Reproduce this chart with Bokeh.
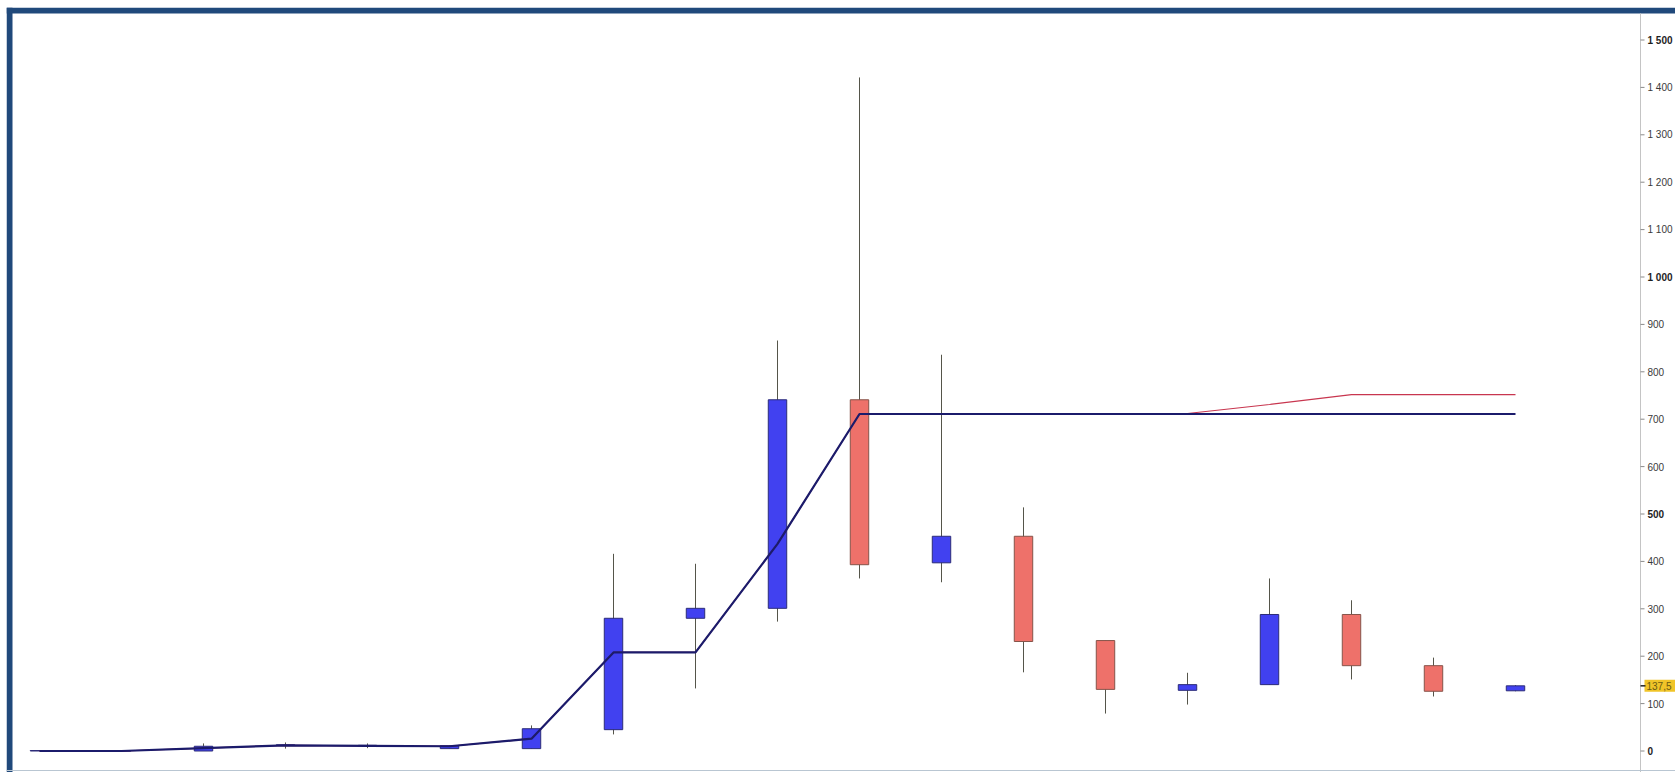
from bokeh.plotting import figure
from bokeh.models import Range1d, Span, ColumnDataSource
from bokeh.core.properties import value, field
from bokeh.embed import file_html
from bokeh.resources import INLINE

# ---- data ----
idx = list(range(19))
opens  = [0, 0, 0, 12, 11, 5, 5, 45, 280, 301, 741, 397, 453, 233, 128, 140, 288, 180, 127]
highs  = [1, 0, 16, 18, 16, 12, 54, 416, 395, 866, 1421, 836, 514, 233, 165, 364, 318, 197, 139]
lows   = [0, 0, 0, 5, 6, 5, 5, 35, 132, 273, 364, 356, 166, 79, 98, 140, 151, 115, 126]
closes = [1, 0, 10, 13, 12, 11, 47, 280, 301, 741, 393, 453, 231, 130, 140, 288, 180, 126, 137.5]
line_navy = [0, 0, 6, 12, 11, 10, 26, 208, 208, 437, 711, 711, 711, 711, 711, 711, 711, 711, 711]
line_red  = [0, 0, 6, 12, 11, 10, 26, 208, 208, 437, 711, 711, 711, 711, 712, 731, 752, 752, 752]
y_ticks = [0, 100, 200, 300, 400, 500, 600, 700, 800, 900, 1000, 1100, 1200, 1300, 1400, 1500]
tick_labels = ["0", "100", "200", "300", "400", "500", "600", "700", "800", "900",
               "1 000", "1 100", "1 200", "1 300", "1 400", "1 500"]
bold_ticks = [0, 500, 1000, 1500]
last_value = 137.5
last_text = "137,5"

# ---- geometry (canvas pixels) ----
W, H = 1675, 772
MARGIN_L, MARGIN_T = 6, 7        # white margin around the framed chart
BORDER = 6                       # dark blue frame border (top and left)
BAR0_PX, BAR_STEP = 39.0, 82.0   # first candle centre and candle spacing
ZERO_PX, Y_SCALE = 750.5, 0.474  # pixel row of value 0, pixels per unit
AXIS_PX = 1640                   # price axis line


def xd(px_):
    return (px_ - BAR0_PX) / BAR_STEP


def yd(py_):
    return (ZERO_PX - py_) / Y_SCALE


X_START, X_END = xd(MARGIN_L), xd(W)
Y_START, Y_END = yd(H), yd(MARGIN_T)
AXIS_X = xd(AXIS_PX)

up = [c >= o for o, c in zip(opens, closes)]
src = ColumnDataSource(dict(
    x=idx, open=opens, high=highs, low=lows, close=closes,
    top=[max(o, c) for o, c in zip(opens, closes)],
    bottom=[min(o, c) for o, c in zip(opens, closes)],
    fill=["#4141f0" if u else "#ee716a" for u in up],
    edge=["#2c2c78" if u else "#86544a" for u in up],
))

p = figure(width=W, height=H, output_backend="svg", toolbar_location=None,
           x_range=Range1d(X_START, X_END), y_range=Range1d(Y_START, Y_END),
           x_axis_location=None, y_axis_location=None,
           min_border_left=MARGIN_L, min_border_right=0, min_border_top=MARGIN_T, min_border_bottom=0,
           background_fill_color="white", border_fill_color="white")
p.grid.visible = False
p.outline_line_color = None

# dark blue frame border (top and left) and light bottom edge
p.quad(left=[X_START], right=[xd(MARGIN_L + BORDER)], bottom=[Y_START], top=[Y_END],
       fill_color="#20497b", line_color=None)
p.quad(left=[X_START], right=[X_END], bottom=[yd(MARGIN_T + BORDER)], top=[Y_END],
       fill_color="#20497b", line_color=None)
p.add_layout(Span(location=yd(H - 2), dimension="width", line_color="#b9c6d2", line_width=1))

# candles
p.segment(x0="x", y0="high", x1="x", y1="low", source=src, line_color="#55554a", line_width=1)
p.vbar(x="x", width=0.225, top="top", bottom="bottom", source=src,
       fill_color="fill", line_color="edge", line_width=1)

# lines
p.line(idx, line_red, line_color="#c8364f", line_width=1.2)
p.line(idx, line_navy, line_color="#1b1b6b", line_width=2.2)

# price scale on the right (drawn with the plot's own y scale)
p.segment(x0=[AXIS_X], y0=[Y_START], x1=[AXIS_X], y1=[yd(MARGIN_T + BORDER)],
          line_color="#c4c4c4", line_width=1)
axis_src = ColumnDataSource(dict(
    x=[AXIS_X] * len(y_ticks), x1=[xd(AXIS_PX + 4)] * len(y_ticks),
    y=y_ticks, text=tick_labels,
    style=["bold" if t in bold_ticks else "normal" for t in y_ticks],
    color=["#1e1e1e" if t in bold_ticks else "#3a3a3a" for t in y_ticks],
))
p.segment(x0="x", y0="y", x1="x1", y1="y", source=axis_src, line_color="#8a8a8a", line_width=1)
p.text(x="x", y="y", text="text", source=axis_src, x_offset=7,
       text_font=value("Liberation Sans"), text_font_size=value("10px"),
       text_font_style=field("style"), text_color=field("color"),
       text_baseline="middle", text_align="left")

# last price marker
p.rect(x=[xd(AXIS_PX + 4 + 19)], y=[last_value], width=38, height=12,
       width_units="screen", height_units="screen",
       fill_color="#f0c428", line_color=None)
p.segment(x0=[AXIS_X], y0=[last_value], x1=[xd(AXIS_PX + 5)], y1=[last_value],
          line_color="#222222", line_width=1.5)
p.text(x=[AXIS_X], y=[last_value], text=[last_text], x_offset=6,
       text_font=value("Liberation Sans"), text_font_size=value("10px"),
       text_color="#6b5a12", text_baseline="middle", text_align="left")

open("out.html", "w").write(file_html(p, INLINE))
